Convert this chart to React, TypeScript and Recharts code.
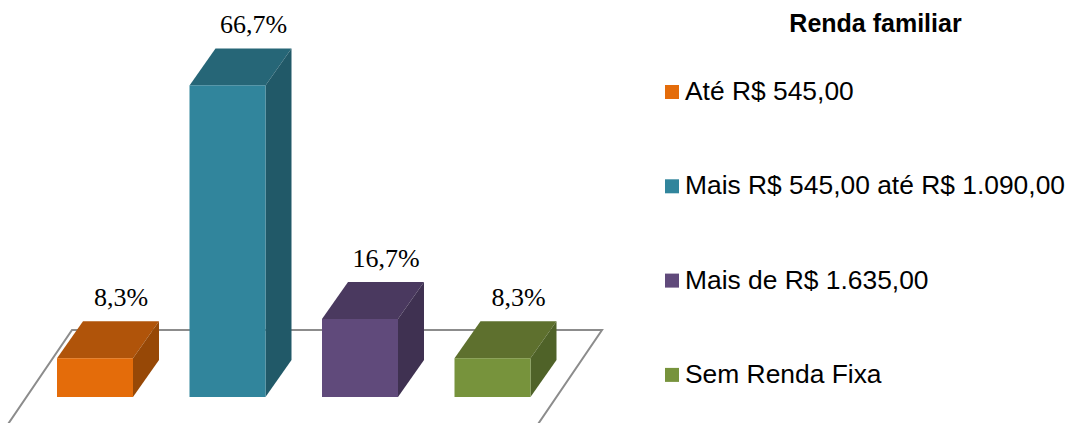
import React from 'react'
import { BarChart, Bar, XAxis, YAxis, LabelList, Legend, ReferenceLine, Cell } from 'recharts'

const categories = ['Até R$ 545,00', 'Mais R$ 545,00 até R$ 1.090,00', 'Mais de R$ 1.635,00', 'Sem Renda Fixa']
const values = [8.3, 66.7, 16.7, 8.3]
const frontColors = ['#E46C0A', '#31859C', '#604A7B', '#77933C']
const topColors = ['#B0540A', '#266677', '#4A395F', '#5E702E']
const sideColors = ['#974806', '#215968', '#3F3151', '#4F6228']

const data = categories.map((name, i) => ({ name, value: values[i] }))

// 3d depth of the boxes
const DX = 26
const DY = 37

function Box3D(props: any) {
  const { x, y, width: w, height: h, index } = props
  const top = `${x},${y} ${x + DX},${y - DY} ${x + w + DX},${y - DY} ${x + w},${y}`
  const side = `${x + w},${y} ${x + w + DX},${y - DY} ${x + w + DX},${y + h - DY} ${x + w},${y + h}`
  return (
    <g>
      <polygon points={top} fill={topColors[index]} />
      <polygon points={side} fill={sideColors[index]} />
      <rect x={x} y={y} width={w} height={h} fill={frontColors[index]} />
    </g>
  )
}

function Floor(props: any) {
  const { x1, y1, x2 } = props
  const bx = 43
  const by = 67
  const k = 0.68
  const yb = y1 - by
  const yf = 440
  return (
    <g stroke="#8c8c8c" strokeWidth={2} fill="none">
      <polyline
        points={`${x1 + bx - (yf - yb) * k},${yf} ${x1 + bx},${yb} ${x2 + bx},${yb} ${x2 + bx - (yf - yb) * k},${yf}`}
      />
    </g>
  )
}

function ValueLabel(props: any) {
  const { x, y, width, value } = props
  return (
    <text
      x={x + width / 2 + DX}
      y={y - DY - 15}
      textAnchor="middle"
      fontFamily="'Liberation Serif', 'Times New Roman', serif"
      fontSize={26}
      fill="#000"
    >
      {String(value).replace('.', ',')}%
    </text>
  )
}

function LegendBox() {
  return (
    <svg width={516} height={423} style={{ display: 'block' }}>
      <text
        x={316.5}
        y={32}
        textAnchor="middle"
        fontFamily="'Liberation Sans', Arial, sans-serif"
        fontWeight="bold"
        fontSize={25}
        fill="#000"
      >
        Renda familiar
      </text>
      {categories.map((c, i) => {
        const base = 100 + i * 94.3
        return (
          <g key={c}>
            <rect x={106} y={base - 15} width={14} height={14} fill={frontColors[i]} />
            <text
              x={126}
              y={base}
              fontFamily="'Liberation Sans', Arial, sans-serif"
              fontSize={26.4}
              fill="#000"
            >
              {c}
            </text>
          </g>
        )
      })}
    </svg>
  )
}

export default function App() {
  return (
    <div style={{ position: 'absolute', left: 0, top: 0, width: 1075, height: 423, background: '#fff' }}>
      <BarChart width={1075} height={423} data={data} margin={{ top: 70, right: 0, bottom: 26, left: 29 }}>
        <XAxis dataKey="name" hide />
        <YAxis hide domain={[0, 70]} />
        <ReferenceLine y={0} ifOverflow="visible" shape={Floor} zIndex={0} />
        <Legend
          layout="vertical"
          align="right"
          verticalAlign="middle"
          wrapperStyle={{ width: 516, height: 423 }}
          content={() => <LegendBox />}
        />
        <Bar dataKey="value" barSize={76} shape={Box3D} isAnimationActive={false}>
          {data.map((d, i) => (
            <Cell key={d.name} fill={frontColors[i]} />
          ))}
          <LabelList dataKey="value" content={ValueLabel} />
        </Bar>
      </BarChart>
    </div>
  )
}
